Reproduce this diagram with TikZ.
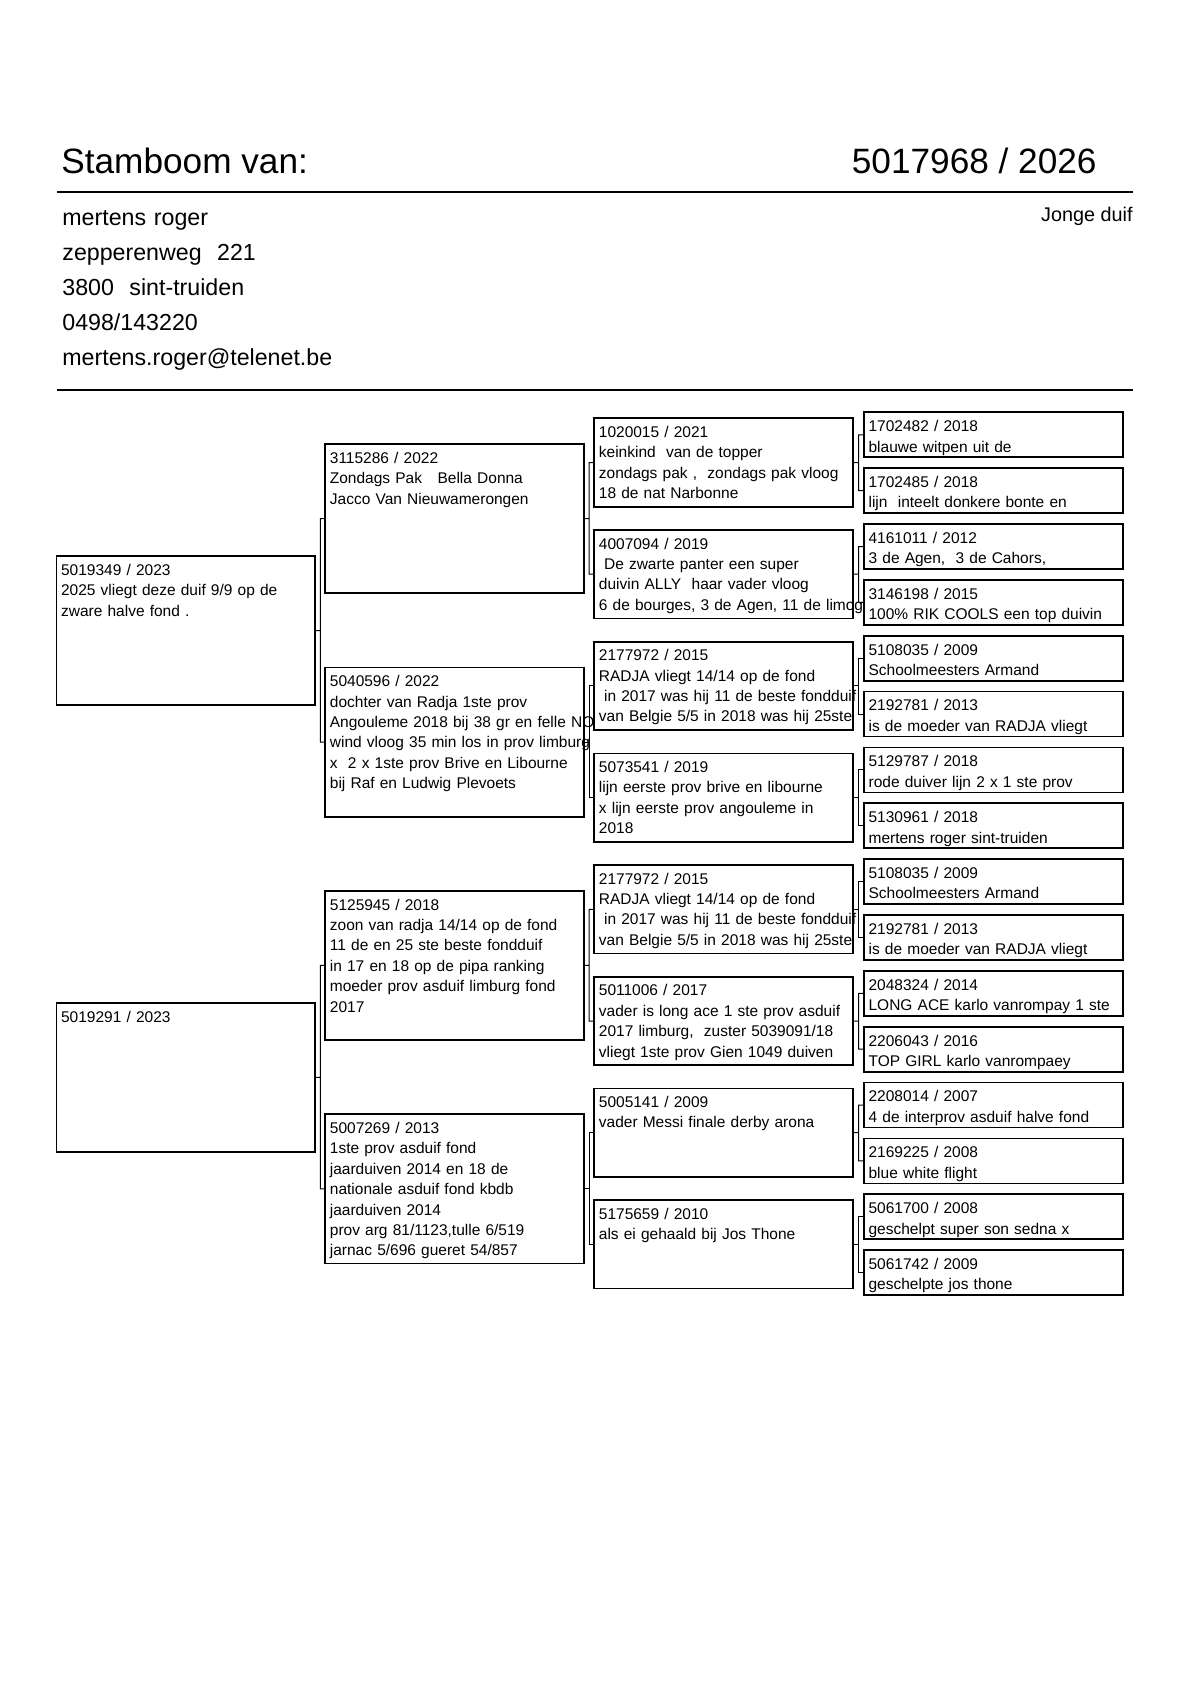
\documentclass[tikz,border=0pt]{standalone}
\usepackage{fontspec}
\setmainfont{Liberation Sans}
\usepackage{tikz}
\usetikzlibrary{calc}
\tikzset{
  ped/.style={draw=black, fill=white, line width=0.85pt, anchor=north west, outer sep=0pt, inner xsep=2.3pt, inner ysep=0pt, text width=124.75pt, align=left, font=\fontsize{7.75}{10.2}\selectfont},
  genbig/.style={ped, text height=9.6pt, text depth=65.05pt},
  genmid/.style={ped, text height=9.5pt, text depth=34.7pt},
  gensmall/.style={ped, text height=9.7pt, text depth=12.8pt},
  wire/.style={line width=0.5pt},
  rule/.style={line width=0.9pt},
}
\newcommand{\pedlink}[3]{\draw[wire] (#1.east) -- ($(#1.east)!.5!(#2.west |- #1.east)$) (#2.west) -| ($(#1.east)!.5!(#2.west |- #1.east)$) |- (#3.west);}

\begin{document}
\begin{tikzpicture}[x=0.5pt,y=-0.5pt]
\useasboundingbox (0,0) rectangle (1190,1683);
\node[anchor=base west, inner sep=0pt, font=\fontsize{17.6}{20}\selectfont] (title) at (61,173) {Stamboom van:};
\node[anchor=base east, inner sep=0pt, font=\fontsize{17.6}{20}\selectfont] (ring) at (1097,173) {5017968 / 2026};
\draw[rule] (57,192) -- (1133,192);
\node[anchor=base west, inner sep=0pt, text width=250pt, align=left, font=\fontsize{11.6}{17.5}\selectfont] (owner) at (62,225) {mertens roger\\zepperenweg~ 221\\3800~ sint-truiden\\0498/143220\\mertens.roger@telenet.be};
\node[anchor=base east, inner sep=0pt, font=\fontsize{9.9}{12}\selectfont] (age) at (1133,221) {Jonge duif};
\draw[rule] (57,390) -- (1133,390);

\node[genbig] (a1) at (56.5,556) {5019349 / 2023\\2025 vliegt deze duif 9/9 op de\\zware halve fond .};
\node[genbig] (a2) at (56.5,1002.8) {5019291 / 2023};

\node[genbig] (b1) at (325.3,444) {3115286 / 2022\\Zondags Pak~~ Bella Donna\\Jacco Van Nieuwamerongen};
\node[genbig] (b2) at (325.3,667.4) {5040596 / 2022\\dochter van Radja 1ste prov\\\mbox{Angouleme 2018 bij 38 gr en felle NO}\\\mbox{wind vloog 35 min los in prov limburg}\\x~ 2 x 1ste prov Brive en Libourne\\bij Raf en Ludwig Plevoets};
\node[genbig] (b3) at (325.3,890.8) {5125945 / 2018\\zoon van radja 14/14 op de fond\\11 de en 25 ste beste fondduif\\in 17 en 18 op de pipa ranking\\moeder prov asduif limburg fond\\2017};
\node[genbig] (b4) at (325.3,1114.2) {5007269 / 2013\\1ste prov asduif fond\\jaarduiven 2014 en 18 de\\nationale asduif fond kbdb\\jaarduiven 2014\\prov arg 81/1123,tulle 6/519\\jarnac 5/696 gueret 54/857};

\node[genmid] (c1) at (594.3,418.3) {1020015 / 2021\\keinkind~ van de topper\\zondags pak ,~ zondags pak vloog\\18 de nat Narbonne};
\node[genmid] (c2) at (594.3,530.0) {4007094 / 2019\\\mbox{\ De zwarte panter een super}\\duivin ALLY~ haar vader vloog\\\mbox{6 de bourges, 3 de Agen, 11 de limoges}};
\node[genmid] (c3) at (594.3,641.7) {2177972 / 2015\\RADJA vliegt 14/14 op de fond\\\mbox{\ in 2017 was hij 11 de beste fondduif}\\\mbox{van Belgie 5/5 in 2018 was hij 25ste}};
\node[genmid] (c4) at (594.3,753.4) {5073541 / 2019\\lijn eerste prov brive en libourne\\x lijn eerste prov angouleme in\\2018};
\node[genmid] (c5) at (594.3,865.1) {2177972 / 2015\\RADJA vliegt 14/14 op de fond\\\mbox{\ in 2017 was hij 11 de beste fondduif}\\\mbox{van Belgie 5/5 in 2018 was hij 25ste}};
\node[genmid] (c6) at (594.3,976.8) {5011006 / 2017\\\mbox{vader is long ace 1 ste prov asduif}\\\mbox{2017 limburg,~ zuster 5039091/18}\\\mbox{vliegt 1ste prov Gien 1049 duiven}};
\node[genmid] (c7) at (594.3,1088.5) {5005141 / 2009\\vader Messi finale derby arona};
\node[genmid] (c8) at (594.3,1200.2) {5175659 / 2010\\als ei gehaald bij Jos Thone};

\foreach \ring/\info [count=\i] in {
  {1702482 / 2018}/{blauwe witpen uit de},
  {1702485 / 2018}/{lijn~ inteelt donkere bonte en},
  {4161011 / 2012}/{3 de Agen,~ 3 de Cahors,},
  {3146198 / 2015}/{100\% RIK COOLS een top duivin},
  {5108035 / 2009}/{Schoolmeesters Armand},
  {2192781 / 2013}/{is de moeder van RADJA vliegt},
  {5129787 / 2018}/{rode duiver lijn 2 x 1 ste prov},
  {5130961 / 2018}/{mertens roger sint-truiden},
  {5108035 / 2009}/{Schoolmeesters Armand},
  {2192781 / 2013}/{is de moeder van RADJA vliegt},
  {2048324 / 2014}/{LONG ACE karlo vanrompay 1 ste},
  {2206043 / 2016}/{TOP GIRL karlo vanrompaey},
  {2208014 / 2007}/{4 de interprov asduif halve fond},
  {2169225 / 2008}/{blue white flight},
  {5061700 / 2008}/{geschelpt super son sedna x},
  {5061742 / 2009}/{geschelpte jos thone}}
  \node[gensmall] (d\i) at (864,{412.3+55.85*(\i-1)}) {\ring\\\info};

\pedlink{a1}{b1}{b2}
\pedlink{a2}{b3}{b4}
\foreach \p in {1,...,4}{
  \pgfmathtruncatemacro{\u}{2*\p-1}
  \pgfmathtruncatemacro{\v}{2*\p}
  \pedlink{b\p}{c\u}{c\v}
}
\foreach \p in {1,...,8}{
  \pgfmathtruncatemacro{\u}{2*\p-1}
  \pgfmathtruncatemacro{\v}{2*\p}
  \pedlink{c\p}{d\u}{d\v}
}
\end{tikzpicture}
\end{document}
